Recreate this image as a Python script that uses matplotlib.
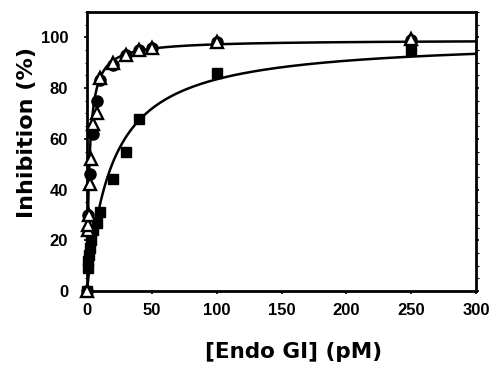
import numpy as np
import matplotlib
matplotlib.use("Agg")
import matplotlib.pyplot as plt
from matplotlib.ticker import MultipleLocator

plt.rcParams['font.family'] = ['Liberation Sans', 'DejaVu Sans']
plt.rcParams['font.weight'] = 'bold'

# squares (filled)
sq_x = [0, 0.5, 1, 1.5, 2, 3, 5, 7.5, 10, 20, 30, 40, 100, 250]
sq_y = [0, 9, 12, 14, 17, 20, 24, 27, 31, 44, 55, 68, 86, 95]

# circles (filled)
ci_x = [0, 1, 2.5, 5, 7.5, 10, 20, 30, 40, 50, 100, 250]
ci_y = [0, 30, 46, 62, 75, 83, 89, 93, 95, 96, 98, 99]

# triangles (open)
tr_x = [0, 0.5, 1, 1.5, 2, 3, 5, 7.5, 10, 20, 30, 40, 50, 100, 250]
tr_y = [0, 24, 26, 30, 42, 52, 66, 70, 84, 90, 93, 95, 96, 98, 99.5]

# hyperbolic fit parameters (Imax, IC50)
fit_sq = (99.5, 19.2)
fit_up = (99.0, 1.8)

fig = plt.figure(figsize=(4.95, 3.68), dpi=100)
ax = fig.add_axes([87 / 495, 77 / 368, 389 / 495, 279 / 368])

xx = np.linspace(0, 300, 1500)
for imax, k in (fit_sq, fit_up):
    ax.plot(xx, imax * xx / (k + xx), color='black', lw=1.8, zorder=2)

ax.plot(sq_x, sq_y, 's', color='black', ms=7.5, ls='none', clip_on=False, zorder=3)
ax.plot(ci_x, ci_y, 'o', color='black', ms=8, ls='none', clip_on=False, zorder=4)
ax.plot(tr_x, tr_y, '^', mfc='white', mec='black', mew=1.7, ms=8.5, ls='none',
        clip_on=False, zorder=5)

ax.set_xlim(0, 300)
ax.set_ylim(0, 110)
ax.set_xticks(np.arange(0, 301, 50))
ax.set_yticks(np.arange(0, 101, 20))
ax.yaxis.set_minor_locator(MultipleLocator(5))
ax.tick_params(axis='both', which='major', direction='out', length=2.5, width=1.2,
               labelsize=12)
ax.tick_params(axis='x', which='major', pad=6)
ax.tick_params(axis='y', which='major', pad=11)
ax.tick_params(axis='y', which='minor', direction='out', length=1.8, width=0.8)
ax.tick_params(axis='y', which='both', right=True)
for s in ax.spines.values():
    s.set_linewidth(2)

fig.text(294 / 495, 1 - 352 / 368, '[Endo GI] (pM)', fontsize=15.5,
         fontweight='bold', family='DejaVu Sans', ha='center', va='center')
fig.text(27.5 / 495, 1 - 132 / 368, 'Inhibition (%)', fontsize=16,
         fontweight='bold', family='DejaVu Sans', ha='center', va='center',
         rotation=90)

fig.savefig('out.png', dpi=100)
